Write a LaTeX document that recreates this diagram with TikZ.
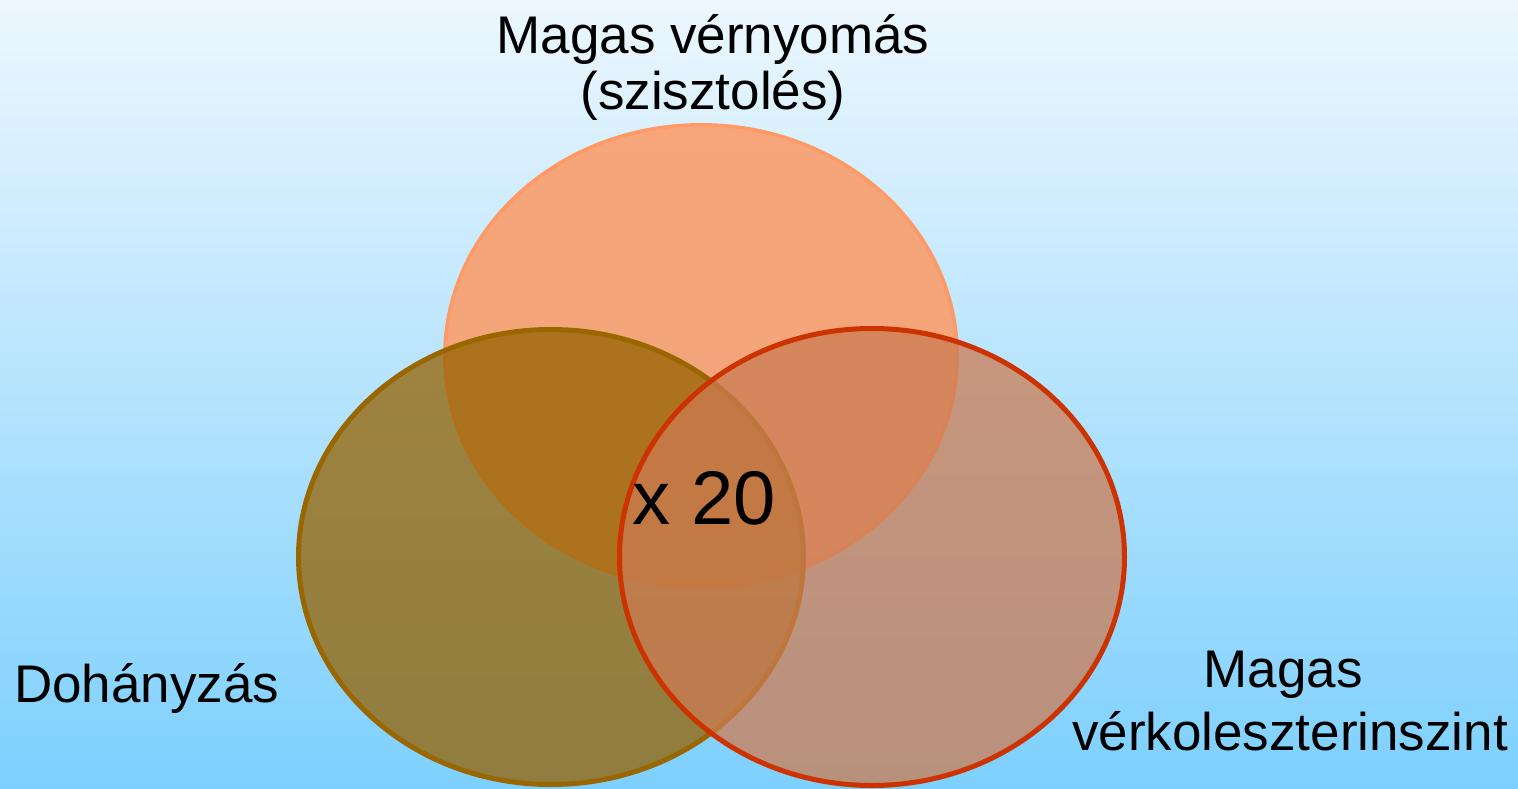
\documentclass[tikz,border=0pt]{standalone}
\usepackage{fontspec}
\setmainfont{Liberation Sans}
\definecolor{bgtop}{RGB}{237,247,254}
\definecolor{bgmid}{RGB}{183,226,253}
\definecolor{bgbot}{RGB}{125,208,254}
\definecolor{topfill}{RGB}{250,158,108}
\definecolor{topline}{RGB}{255,153,102}
\definecolor{leftfill}{RGB}{150,98,0}
\definecolor{leftline}{RGB}{153,102,0}
\definecolor{rightfill}{RGB}{204,124,82}
\definecolor{rightline}{RGB}{204,51,0}
\tikzset{
  lbl/.style={anchor=base, inner sep=0pt, font=\fontsize{53}{60}\selectfont},
  bigl/.style={anchor=base, inner sep=0pt, font=\fontsize{76}{85}\selectfont},
  topset/.style={fill=topfill, fill opacity=0.9, draw=topline, line width=3.5pt},
  leftset/.style={fill=leftfill, fill opacity=0.75, draw=leftline, line width=5pt},
  rightset/.style={fill=rightfill, fill opacity=0.75, draw=rightline, line width=5pt},
}
\begin{document}
\begin{tikzpicture}[x=1pt,y=-1pt]
\useasboundingbox (0,0) rectangle (1518,788);
\shade[top color=bgtop, middle color=bgmid, bottom color=bgbot] (0,0) rectangle (1518,788);
% sets
\path[topset] (701,356) ellipse [x radius=256.2, y radius=231.2];
\path[leftset] (551,557) ellipse [x radius=252.5, y radius=227.5];
\path[rightset] (872,557) ellipse [x radius=252.5, y radius=228.5];
% labels
\node[lbl] (t1) at (713,53) {Magas vérnyomás};
\node[lbl] (t2) at (713,109) {(szisztolés)};
\node[lbl, anchor=base west] (d) at (14,702) {Dohányzás};
\node[lbl] (r1) at (1283,687) {Magas};
\node[lbl] (r2) at (1290,750) {vérkoleszterinszint};
\node[bigl] (x) at (704,524) {x 20};
\end{tikzpicture}
\end{document}
